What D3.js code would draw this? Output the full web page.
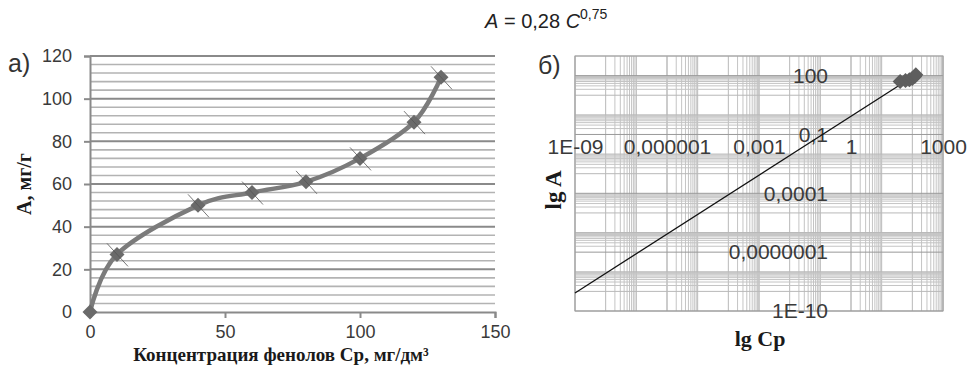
<!DOCTYPE html>
<html>
<head>
<meta charset="utf-8">
<script src="https://cdn.jsdelivr.net/npm/d3@7"></script>
<style>
  body { margin: 0; background: #fff; }
  svg { display: block; }
  .tick text { fill: #3a3a3a; font-family: "Liberation Sans", Arial, sans-serif; }
  .ttl { font-family: "Liberation Serif", "Times New Roman", serif; font-weight: bold; fill: #1a1a1a; }
</style>
</head>
<body>
<div id="chart"></div>
<script>
// left panel (a): isotherm
var concValues = [0, 10, 40, 60, 80, 100, 120, 130];
var adsValues = [0, 27, 50, 56, 61, 72, 89, 110];
var xTicksA = [0, 50, 100, 150];
var yTicksA = [0, 20, 40, 60, 80, 100, 120];

// right panel (б): log-log, points from C = 40 upward
var logConc = [40, 60, 80, 100, 120, 130];
var logAds = [50, 56, 61, 72, 89, 110];
var xTicksB = [1e-9, 1e-6, 1e-3, 1, 1000];
var xTickLabelsB = ['1E-09', '0,000001', '0,001', '1', '1000'];
var yTicksB = [1e-10, 1e-7, 1e-4, 0.1, 100];
var yTickLabelsB = ['1E-10', '0,0000001', '0,0001', '0,1', '100'];
var trendX = [1e-9, 130];
var trendY = [8.3e-10, 110];

var W = 970, H = 371;
var svg = d3.select('#chart').append('svg')
  .attr('width', W)
  .attr('height', H);

function diamond(r) {
  return 'M0,' + (-r) + 'L' + r + ',0L0,' + r + 'L' + (-r) + ',0Z';
}

// ---------- panel a ----------
var x = d3.scaleLinear().domain([0, 150]).range([90, 495]);
var y = d3.scaleLinear().domain([0, 120]).range([312, 56]);

var gridA = svg.append('g');
for (var v = 4; v <= 120; v += 4) {
  gridA.append('line')
    .attr('x1', x(0)).attr('x2', x(150))
    .attr('y1', y(v)).attr('y2', y(v))
    .attr('stroke', v % 20 === 0 ? '#8a8a8a' : '#b3b3b3')
    .attr('stroke-width', v % 20 === 0 ? 2 : 1.6);
}

var yAxisA = d3.axisLeft(y).tickValues(yTicksA).tickSize(6).tickPadding(12);
var gy = svg.append('g')
  .attr('transform', 'translate(' + x(0) + ',0)')
  .call(yAxisA);
gy.selectAll('.tick text').style('font-size', '18px');

var xAxisA = d3.axisBottom(x).tickValues(xTicksA).tickSize(6).tickPadding(7);
var gx = svg.append('g')
  .attr('transform', 'translate(0,' + y(0) + ')')
  .call(xAxisA);
gx.selectAll('.tick text').style('font-size', '18px');

[gx, gy].forEach(function (g) {
  g.select('.domain').attr('stroke', '#8a8a8a').attr('stroke-width', 2);
  g.selectAll('.tick line').attr('stroke', '#8a8a8a').attr('stroke-width', 2);
});

var line = d3.line()
  .x(function (d, i) { return x(concValues[i]); })
  .y(function (d) { return y(d); })
  .curve(d3.curveCardinal.tension(0));

svg.append('path')
  .datum(adsValues)
  .attr('d', line)
  .attr('fill', 'none')
  .attr('stroke', '#7b7b7b')
  .attr('stroke-width', 4.5);

var pts = svg.selectAll('.ptA')
  .data(adsValues)
  .enter().append('g')
  .attr('class', 'ptA')
  .attr('transform', function (d, i) {
    return 'translate(' + x(concValues[i]) + ',' + y(d) + ')';
  });
pts.append('path')
  .attr('d', diamond(7.5))
  .attr('fill', '#6a6a6a');
pts.filter(function (d, i) { return i > 0; })
  .append('line')
  .attr('x1', -10).attr('y1', -11)
  .attr('x2', 11).attr('y2', 12)
  .attr('stroke', '#555')
  .attr('stroke-width', 0.8);

svg.append('text')
  .attr('class', 'ttl')
  .attr('transform', 'translate(31,184) rotate(-90)')
  .attr('text-anchor', 'middle')
  .style('font-size', '20px')
  .text('A, мг/г');

svg.append('text')
  .attr('class', 'ttl')
  .attr('x', 281).attr('y', 361)
  .attr('text-anchor', 'middle')
  .style('font-size', '19px')
  .text('Концентрация фенолов Ср, мг/дм³');

svg.append('text')
  .attr('x', 8).attr('y', 72)
  .style('font-family', '"Liberation Sans", Arial, sans-serif')
  .style('font-size', '25px')
  .attr('fill', '#333')
  .text('а)');

// ---------- panel б ----------
var lx = d3.scaleLog().domain([1e-9, 1000]).range([575, 943]);
var ly = d3.scaleLog().domain([1e-10, 1000]).range([311, 56]);

var gridB = svg.append('g');
// vertical lines: every decade, minor 2..9 in even-exponent decades
for (var e = -9; e <= 3; e++) {
  var base = Math.pow(10, e);
  gridB.append('line')
    .attr('x1', lx(base)).attr('x2', lx(base))
    .attr('y1', 56).attr('y2', 311)
    .attr('stroke', (e % 3 === 0) ? '#999' : '#b8b8b8')
    .attr('stroke-width', 1);
  if (e < 3 && e % 2 === 0) {
    for (var k = 2; k <= 9; k++) {
      gridB.append('line')
        .attr('x1', lx(k * base)).attr('x2', lx(k * base))
        .attr('y1', 56).attr('y2', 311)
        .attr('stroke', '#c4c4c4')
        .attr('stroke-width', 1);
    }
  }
}
// horizontal lines: every decade, minor 2..9 in odd-exponent decades
for (var e2 = -10; e2 <= 3; e2++) {
  var b2 = Math.pow(10, e2);
  gridB.append('line')
    .attr('x1', 575).attr('x2', 943)
    .attr('y1', ly(b2)).attr('y2', ly(b2))
    .attr('stroke', ((e2 + 10) % 3 === 0) ? '#999' : '#b8b8b8')
    .attr('stroke-width', 1);
  if (e2 < 3 && Math.abs(e2 % 2) === 1) {
    for (var k2 = 2; k2 <= 9; k2++) {
      gridB.append('line')
        .attr('x1', 575).attr('x2', 943)
        .attr('y1', ly(k2 * b2)).attr('y2', ly(k2 * b2))
        .attr('stroke', '#c4c4c4')
        .attr('stroke-width', 1);
    }
  }
}
gridB.append('rect')
  .attr('x', 575).attr('y', 56)
  .attr('width', 943 - 575).attr('height', 311 - 56)
  .attr('fill', 'none')
  .attr('stroke', '#a0a0a0')
  .attr('stroke-width', 1);

var yAxisB = d3.axisLeft(ly).tickValues(yTicksB).tickSize(0).tickPadding(4)
  .tickFormat(function (d, i) { return yTickLabelsB[i]; });
var gyB = svg.append('g')
  .attr('transform', 'translate(832,0)')
  .call(yAxisB);
gyB.select('.domain').remove();
gyB.selectAll('.tick text').style('font-size', '21px');

var xAxisB = d3.axisBottom(lx).tickValues(xTicksB).tickSize(0).tickPadding(3)
  .tickFormat(function (d, i) { return xTickLabelsB[i]; });
var gxB = svg.append('g')
  .attr('transform', 'translate(0,136)')
  .call(xAxisB);
gxB.select('.domain').remove();
gxB.selectAll('.tick text').style('font-size', '21px');

svg.append('path')
  .datum(trendX)
  .attr('d', d3.line()
    .x(function (d) { return lx(d); })
    .y(function (d, i) { return ly(trendY[i]); }))
  .attr('stroke', '#111')
  .attr('stroke-width', 1.3)
  .attr('fill', 'none');

svg.selectAll('.ptB')
  .data(logAds)
  .enter().append('path')
  .attr('class', 'ptB')
  .attr('d', diamond(7.5))
  .attr('transform', function (d, i) {
    return 'translate(' + lx(logConc[i]) + ',' + ly(d) + ')';
  })
  .attr('fill', '#5e5e5e');

svg.append('text')
  .attr('class', 'ttl')
  .attr('transform', 'translate(561,190) rotate(-90)')
  .attr('text-anchor', 'middle')
  .style('font-size', '23px')
  .text('lg A');

svg.append('text')
  .attr('class', 'ttl')
  .attr('x', 760).attr('y', 346)
  .attr('text-anchor', 'middle')
  .style('font-size', '22px')
  .text('lg Cp');

svg.append('text')
  .attr('x', 538).attr('y', 74)
  .style('font-family', '"Liberation Sans", Arial, sans-serif')
  .style('font-size', '25px')
  .attr('fill', '#333')
  .text('б)');

// equation
var eq = svg.append('text')
  .attr('x', 485).attr('y', 28)
  .style('font-family', '"Liberation Sans", Arial, sans-serif')
  .style('font-size', '20px')
  .attr('fill', '#222');
eq.append('tspan').style('font-style', 'italic').text('A');
eq.append('tspan').text(' = 0,28 ');
eq.append('tspan').style('font-style', 'italic').text('C');
eq.append('tspan').attr('dy', -9).style('font-size', '14px').text('0,75');
</script>
</body>
</html>
